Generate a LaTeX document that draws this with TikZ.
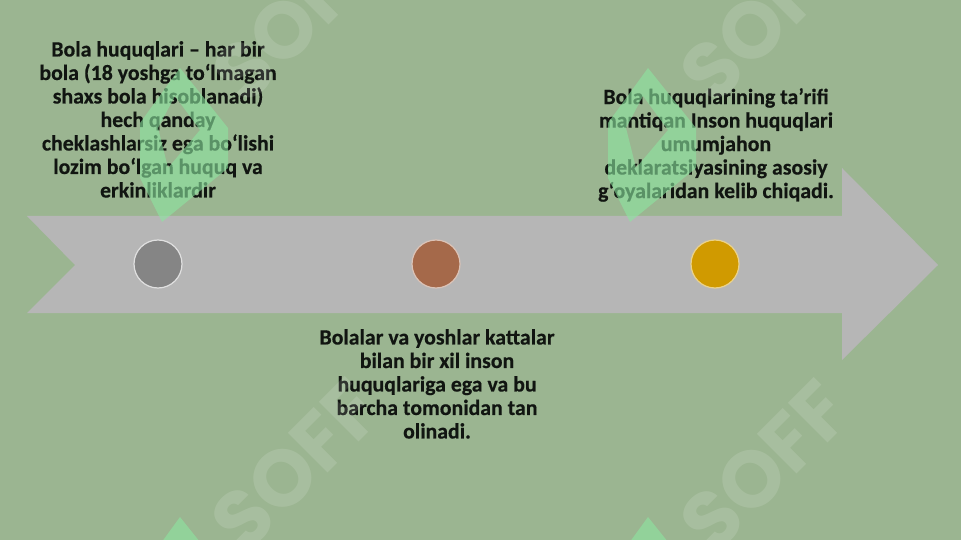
\documentclass[tikz,border=0pt]{standalone}
\usepackage{fontspec}
\setmainfont{Carlito}[BoldFeatures={FakeBold=0.4}]
\newfontfamily\wmfont{Poppins}
\definecolor{bgc}{HTML}{9BB591}
\definecolor{arrowc}{HTML}{B6B6B6}
\definecolor{txtc}{HTML}{111511}
\definecolor{greyc}{HTML}{858585}
\definecolor{brownc}{HTML}{A5694A}
\definecolor{goldc}{HTML}{D09A00}
\definecolor{logoc}{HTML}{8CE6A0}
\tikzset{
  dot/.style={circle, minimum size=48pt, inner sep=0pt, line width=1.2pt},
  blocktext/.style={align=center, inner sep=0pt, text=txtc,
    font=\bfseries\fontsize{21.8}{23.5}\selectfont},
  wmtext/.style={rotate=45, text=white, opacity=0.13, inner sep=0pt,
    font=\wmfont\bfseries\fontsize{80}{80}\selectfont},
  logo/.style={fill=logoc, fill opacity=0.6, even odd rule}
}
\begin{document}
\begin{tikzpicture}[x=1pt,y=-1pt]
\useasboundingbox (0,0) rectangle (961,540);
\clip (0,0) rectangle (961,540);
\fill[bgc] (0,0) rectangle (961,540);
% big arrow
\fill[arrowc] (27,216) -- (842,216) -- (842,168) -- (938,265) -- (842,360)
  -- (842,313) -- (27,313) -- (75,265) -- cycle;
% circles
\node[dot, fill=greyc, draw=white!75!greyc] (c1) at (158,264) {};
\node[dot, fill=brownc, draw=white!60!brownc] (c2) at (436,264) {};
\node[dot, fill=goldc, draw=white!55!goldc] (c3) at (715,264) {};
% texts
\node[blocktext, anchor=north] (t1) at (158,41) {Bola huquqlari – har bir\\bola (18 yoshga to‘lmagan\\shaxs bola hisoblanadi)\\hech qanday\\cheklashlarsiz ega bo‘lishi\\lozim bo‘lgan huquq va\\erkinliklardir};
\node[blocktext, anchor=north] (t3) at (716,88) {Bola huquqlarining ta’rifi\\mantiqan Inson huquqlari\\umumjahon\\deklaratsiyasining asosiy\\g‘oyalaridan kelib chiqadi.};
\node[blocktext, anchor=north] (t2) at (437,329) {Bolalar va yoshlar kattalar\\bilan bir xil inson\\huquqlariga ega va bu\\barcha tomonidan tan\\olinadi.};
% watermark logos
\foreach \lx/\ly [count=\i] in {180/68, 648/68, 180/517, 648/517}{
  \fill[logo] (\lx,\ly) -- ++(48,60) -- ++(0,40) -- ++(-66,54) -- ++(-22,-44)
      -- ++(0,-55) -- cycle
    (\lx-5,\ly+28) -- ++(25,34) -- ++(-32,38) -- ++(-10,-40) -- cycle;
}
% watermark text
\node[wmtext] (w1) at (297,17) {SOFF};
\node[wmtext] (w2) at (765,17) {SOFF};
\node[wmtext] (w3) at (296,465) {SOFF};
\node[wmtext] (w4) at (765,466) {SOFF};
\end{tikzpicture}
\end{document}
